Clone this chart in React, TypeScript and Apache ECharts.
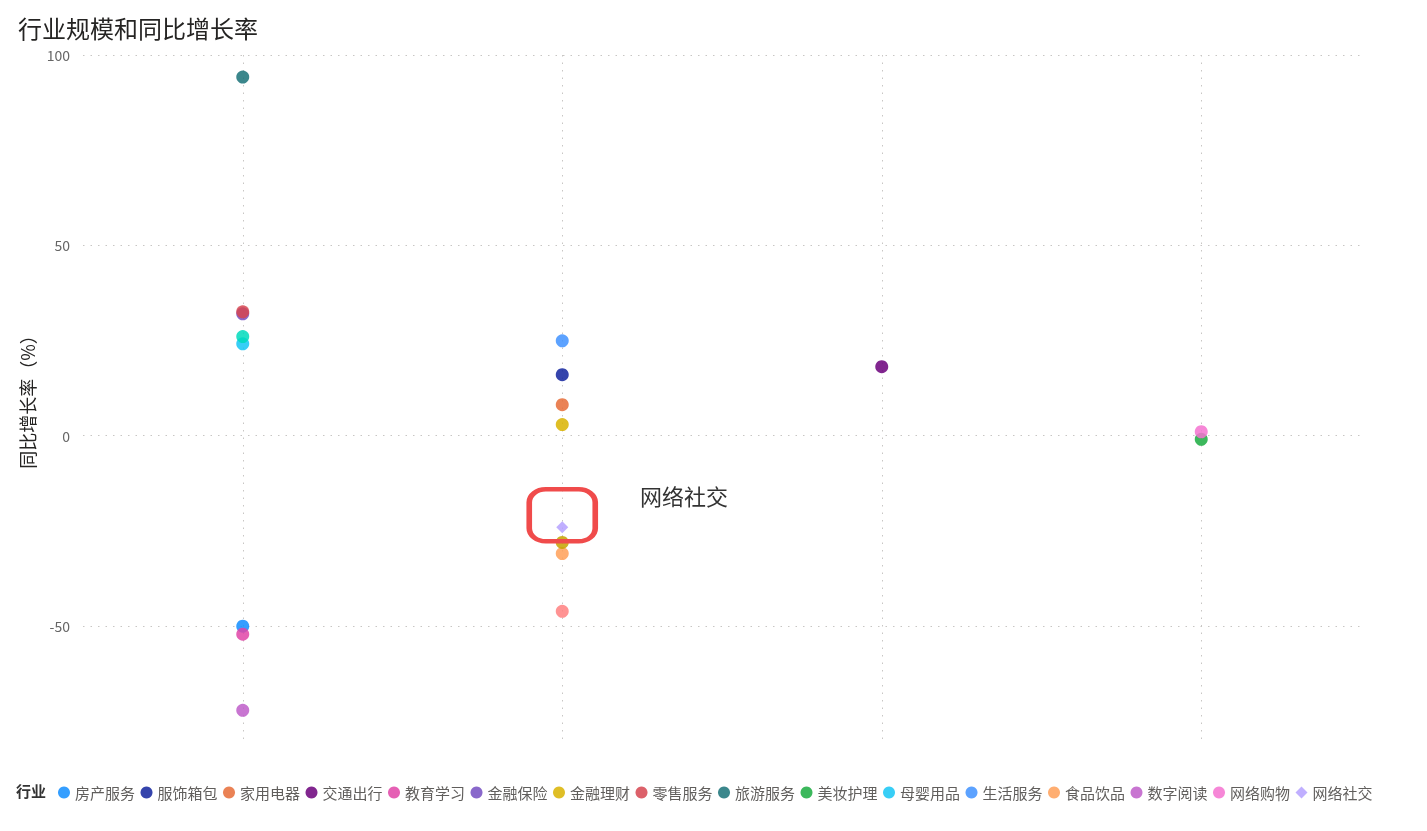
import React, { useEffect, useRef } from "react";
import * as echarts from "echarts";

const titleText = "行业规模和同比增长率";
const yAxisName = "同比增长率（%）";
const legendTitle = "行业";

// x position = index of the scale bucket (4 buckets, labels hidden in the reference)
const seriesNames = [
  "房产服务", "服饰箱包", "家用电器", "交通出行", "教育学习", "金融保险", "金融理财", "零售服务",
  "旅游服务", "美妆护理", "母婴用品", "生活服务", "食品饮品", "数字阅读", "网络购物", "网络社交",
  "其他一", "其他二", "其他三",
];
const seriesColors = [
  "#118DFF", "#12239E", "#E66C37", "#6B007B", "#E044A7", "#744EC2", "#D9B300", "#D64550",
  "#197278", "#1AAB40", "#15C6F4", "#4092FF", "#FFA058", "#BE5DC9", "#F472D0", "#B5A1FF",
  "#C4A200", "#FF8080", "#00DBBC",
];
const bucketIndex = [0, 1, 1, 2, 0, 0, 1, 0, 0, 3, 0, 1, 1, 0, 3, 1, 1, 1, 0];
const growthRate = [-50.1, 16.0, 8.1, 18.1, -52.2, 32.0, 2.9, 32.5, 94.2, -1.0, 24.1, 24.9, -31.0, -72.2, 1.0, -24.1, -28.1, -46.2, 26.0];
const legendNames = seriesNames.slice(0, 16);
const highlighted = "网络社交";

const FONT = "'Noto Sans CJK SC', 'Noto Sans', sans-serif";

export default function App() {
  const ref = useRef<HTMLDivElement>(null);
  useEffect(() => {
    if (!ref.current) return;
    const chart = echarts.init(ref.current, null, { renderer: "svg" });
    const series: any[] = seriesNames.map((name, i) => {
      const s: any = {
        name,
        type: "scatter",
        symbol: name === highlighted ? "diamond" : "circle",
        symbolSize: name === highlighted ? 12 : 13,
        itemStyle: { color: seriesColors[i], opacity: 0.85 },
        data: [[bucketIndex[i], growthRate[i]]],
      };
      if (name === highlighted) {
        s.markPoint = {
          symbol: "roundRect",
          symbolSize: [66, 52],
          symbolOffset: [0, -12],
          itemStyle: { color: "rgba(0,0,0,0)", borderColor: "#F04B4B", borderWidth: 5 },
          label: {
            show: true,
            formatter: highlighted,
            position: "right",
            distance: 42,
            offset: [0, -20],
            fontSize: 22,
            color: "#333333",
            fontFamily: FONT,
          },
          data: [{ coord: [bucketIndex[i], growthRate[i]] }],
        };
      }
      return s;
    });
    chart.setOption({
      animation: false,
      textStyle: { fontFamily: FONT },
      title: {
        text: titleText,
        left: 13,
        top: 10,
        textStyle: { fontSize: 24, fontWeight: "normal", color: "#252423", fontFamily: FONT },
      },
      legend: {
        data: legendNames.map((n) => ({ name: n, icon: n === highlighted ? "diamond" : "circle" })),
        left: 53,
        top: 780,
        itemWidth: 12,
        itemHeight: 12,
        itemGap: 5.5,
        textStyle: { fontSize: 15, color: "#605E5C", fontFamily: FONT },
      },
      graphic: [
        {
          type: "text",
          left: 16,
          top: 783,
          style: { text: legendTitle, fontSize: 15, fontWeight: "bold", fill: "#333333", fontFamily: FONT },
        },
      ],
      grid: { left: 83, right: 66, top: 55, bottom: 91 },
      xAxis: {
        type: "value",
        min: -0.5,
        max: 3.5,
        minInterval: 1,
        maxInterval: 1,
        axisLine: { show: false },
        axisTick: { show: false },
        axisLabel: { show: false },
        splitLine: {
          show: true,
          showMinLine: false,
          showMaxLine: false,
          lineStyle: { color: "#C8C6C4", type: [1.5, 6], width: 1 },
        },
      },
      yAxis: {
        type: "value",
        min: -80,
        max: 100,
        minInterval: 50,
        maxInterval: 50,
        name: yAxisName,
        nameLocation: "middle",
        nameGap: 42,
        nameTextStyle: { fontSize: 18, color: "#252423", fontFamily: FONT },
        axisLine: { show: false },
        axisTick: { show: false },
        axisLabel: { showMinLabel: false, fontSize: 14, color: "#666666", margin: 13, fontFamily: FONT },
        splitLine: {
          show: true,
          showMinLine: false,
          lineStyle: { color: "#C8C6C4", type: [1.5, 6], width: 1 },
        },
      },
      series,
    });
    return () => chart.dispose();
  }, []);
  return <div ref={ref} style={{ position: "fixed", left: 0, top: 0, width: 1427, height: 831 }} />;
}
